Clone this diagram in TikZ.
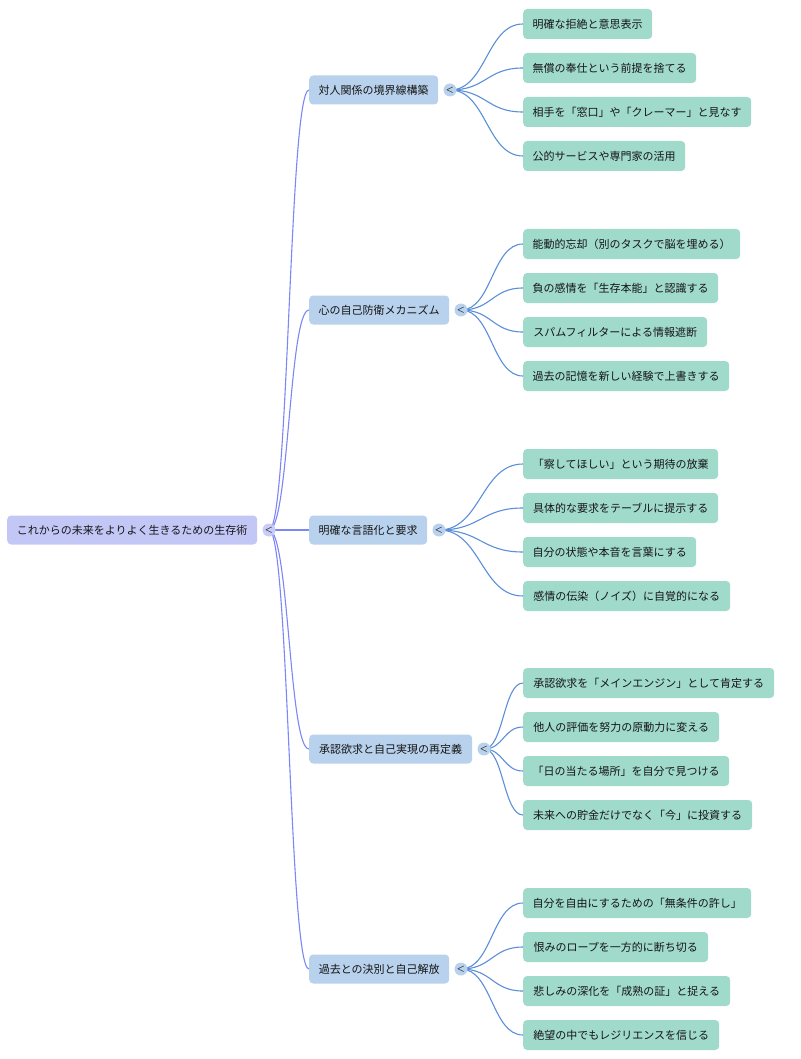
\documentclass[tikz,border=0pt]{standalone}
\usepackage{fontspec}
\usetikzlibrary{calc}
\newfontfamily\cjk{Noto Sans CJK JP}
\definecolor{rootfill}{HTML}{C3C7F6}
\definecolor{rootcirc}{HTML}{C9CCF6}
\definecolor{branchfill}{HTML}{B8D1EC}
\definecolor{leaffill}{HTML}{A0DACB}
\definecolor{rootedge}{HTML}{7C86F4}
\definecolor{leafedge}{HTML}{5B8FD8}
\definecolor{txt}{HTML}{151515}
\tikzset{
  box/.style={rounded corners=4pt, inner sep=0pt, minimum height=29pt, anchor=west,
    font=\cjk\fontsize{11}{13}\selectfont, text=txt},
  rootbox/.style={box, fill=rootfill},
  branchbox/.style={box, fill=branchfill},
  leafbox/.style={box, fill=leaffill, minimum height=30pt},
  toggle/.style={circle, inner sep=0pt, minimum size=13pt, text=txt,
    font=\sffamily\bfseries\fontsize{9}{9}\selectfont},
  redge/.style={draw=rootedge, line width=1.1pt},
  ledge/.style={draw=leafedge, line width=1.1pt},
}
\newcommand{\curve}[3]{\path[#1] let \p1=(#2), \p2=(#3) in (\p1) .. controls ({0.5*\x1+0.5*\x2},\y1) and ({0.5*\x1+0.5*\x2},\y2) .. (\p2);}
\begin{document}
\begin{tikzpicture}[x=1pt,y=-1pt]
\useasboundingbox (0,0) rectangle (800,1059);
% nodes
\node[rootbox, minimum width=250pt] (root) at (7,530) {これからの未来をよりよく生きるための生存術};
\coordinate (rc) at (269,530);

\node[branchbox, minimum width=129pt] (b1) at (309,90) {対人関係の境界線構築};
\node[branchbox, minimum width=140pt] (b2) at (309,310) {心の自己防衛メカニズム};
\node[branchbox, minimum width=118pt] (b3) at (309,530) {明確な言語化と要求};
\node[branchbox, minimum width=163pt] (b4) at (309,749) {承認欲求と自己実現の再定義};
\node[branchbox, minimum width=140pt] (b5) at (309,969) {過去との決別と自己解放};
\coordinate (c1) at (450,90);
\coordinate (c2) at (461,310);
\coordinate (c3) at (439,530);
\coordinate (c4) at (484,749);
\coordinate (c5) at (461,969);

\node[leafbox, minimum width=129pt] (l11) at (523,24) {明確な拒絶と意思表示};
\node[leafbox, minimum width=173pt] (l12) at (523,68) {無償の奉仕という前提を捨てる};
\node[leafbox, minimum width=228pt] (l13) at (523,112) {相手を「窓口」や「クレーマー」と見なす};
\node[leafbox, minimum width=162pt] (l14) at (523,156) {公的サービスや専門家の活用};

\node[leafbox, minimum width=217pt] (l21) at (523,244) {能動的忘却（別のタスクで脳を埋める）};
\node[leafbox, minimum width=195pt] (l22) at (523,288) {負の感情を「生存本能」と認識する};
\node[leafbox, minimum width=184pt] (l23) at (523,332) {スパムフィルターによる情報遮断};
\node[leafbox, minimum width=206pt] (l24) at (523,376) {過去の記憶を新しい経験で上書きする};

\node[leafbox, minimum width=195pt] (l31) at (523,464) {「察してほしい」という期待の放棄};
\node[leafbox, minimum width=195pt] (l32) at (523,508) {具体的な要求をテーブルに提示する};
\node[leafbox, minimum width=173pt] (l33) at (523,552) {自分の状態や本音を言葉にする};
\node[leafbox, minimum width=207pt] (l34) at (523,596) {感情の伝染（ノイズ）に自覚的になる};

\node[leafbox, minimum width=251pt] (l41) at (523,683) {承認欲求を「メインエンジン」として肯定する};
\node[leafbox, minimum width=196pt] (l42) at (523,727) {他人の評価を努力の原動力に変える};
\node[leafbox, minimum width=206pt] (l43) at (523,771) {「日の当たる場所」を自分で見つける};
\node[leafbox, minimum width=229pt] (l44) at (523,815) {未来への貯金だけでなく「今」に投資する};

\node[leafbox, minimum width=228pt] (l51) at (523,903) {自分を自由にするための「無条件の許し」};
\node[leafbox, minimum width=185pt] (l52) at (523,947) {恨みのロープを一方的に断ち切る};
\node[leafbox, minimum width=207pt] (l53) at (523,991) {悲しみの深化を「成熟の証」と捉える};
\node[leafbox, minimum width=196pt] (l54) at (523,1035) {絶望の中でもレジリエンスを信じる};

% edges
\foreach \b in {1,...,5} {\curve{redge}{rc}{b\b.west}}
\foreach \g in {1,...,5} {\foreach \i in {1,...,4} {\curve{ledge}{c\g}{l\g\i.west}}}
% toggles
\node[toggle, fill=rootcirc] (t0) at (rc) {<};
\foreach \g in {1,...,5} {\node[toggle, fill=branchfill] (t\g) at (c\g) {<};}
\end{tikzpicture}
\end{document}
